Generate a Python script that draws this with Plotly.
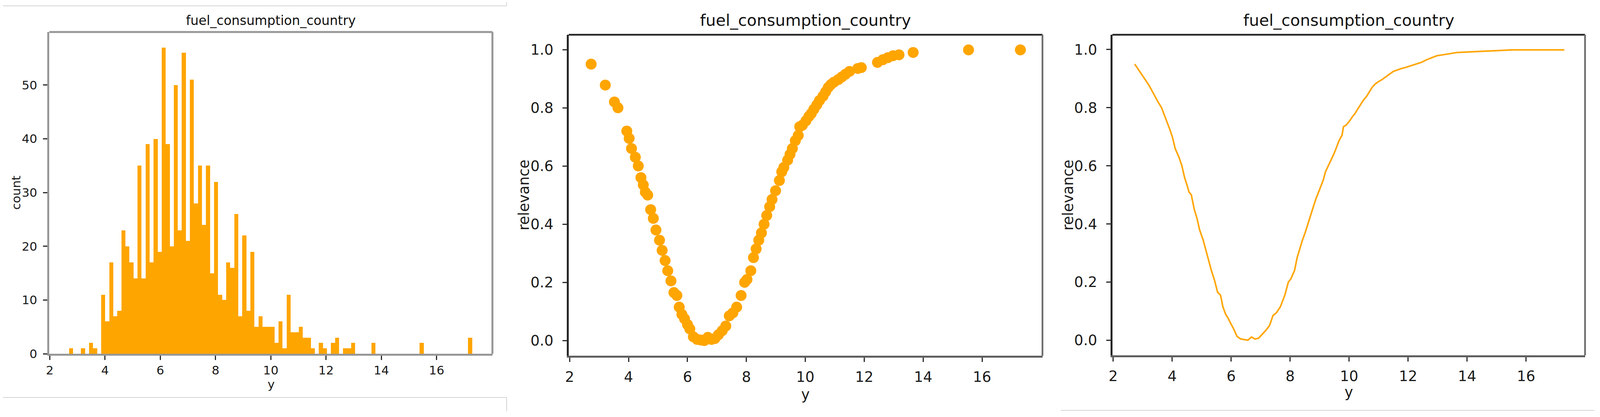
import numpy as np
import plotly.graph_objects as go
from plotly.subplots import make_subplots

W, H = 4276, 1068  # reference canvas, used to place boxes as fractions
ORANGE = "#FFA500"
TITLE = "fuel_consumption_country"

# ---- data ----
bin_start = 2.70
bin_end = 17.29
hist_counts = [1, 0, 0, 1, 0, 2, 1, 0,
               11, 6, 17, 7, 8, 23, 20, 17, 14, 35, 14, 39, 17, 40, 19, 57, 39, 20, 50, 23, 56, 21,
               51, 28, 35, 24, 35, 15, 32, 11, 10, 17, 16, 26, 7, 22, 8, 19, 5, 7, 5, 5,
               5, 2, 6, 1, 11, 4, 4, 5, 3, 3, 1, 0, 2, 1, 0, 2, 3, 0, 1, 1,
               2, 0, 0, 0, 0, 2, 0, 0, 0, 0, 0, 0, 0, 0, 0, 0, 0, 2, 0, 0,
               0, 0, 0, 0, 0, 0, 0, 0, 0, 3]

y_values = [2.73, 3.21, 3.52, 3.64, 3.94, 4.02, 4.10, 4.23, 4.33, 4.42, 4.50, 4.57, 4.65,
            4.75, 4.84, 4.93, 5.05, 5.14, 5.24, 5.33, 5.44, 5.54, 5.64, 5.72, 5.81, 5.90,
            6.00, 6.08, 6.20, 6.33, 6.45, 6.57, 6.69, 6.81, 6.93, 7.05, 7.18, 7.30, 7.42,
            7.54, 7.67, 7.82, 7.94, 8.02, 8.15, 8.24, 8.33, 8.42, 8.51, 8.60, 8.69, 8.79,
            8.87, 8.99, 9.12, 9.20, 9.27, 9.40, 9.48, 9.56, 9.66, 9.76, 9.81, 9.90, 10.02,
            10.12, 10.20, 10.29, 10.39, 10.48, 10.60, 10.69, 10.78, 10.87, 10.97, 11.12,
            11.24, 11.36, 11.50, 11.78, 11.90, 12.45, 12.63, 12.80, 12.98, 13.18, 13.66,
            15.54, 17.30]
relevance = [0.950, 0.878, 0.820, 0.800, 0.720, 0.695, 0.660, 0.630, 0.600, 0.560, 0.535,
             0.510, 0.500, 0.450, 0.420, 0.380, 0.345, 0.310, 0.275, 0.240, 0.205, 0.165,
             0.155, 0.115, 0.090, 0.075, 0.055, 0.040, 0.013, 0.004, 0.002, 0.000, 0.011,
             0.004, 0.007, 0.020, 0.034, 0.050, 0.085, 0.095, 0.115, 0.155, 0.200, 0.210,
             0.240, 0.285, 0.315, 0.345, 0.370, 0.400, 0.430, 0.460, 0.485, 0.515, 0.550,
             0.580, 0.595, 0.620, 0.640, 0.660, 0.687, 0.705, 0.735, 0.740, 0.755, 0.770,
             0.780, 0.795, 0.810, 0.825, 0.840, 0.855, 0.870, 0.880, 0.888, 0.897, 0.906,
             0.915, 0.925, 0.935, 0.938, 0.956, 0.965, 0.972, 0.979, 0.982, 0.990, 0.999,
             0.999]

x_ticks = [2, 4, 6, 8, 10, 12, 14, 16]
count_ticks = [0, 10, 20, 30, 40, 50]
rel_ticks = [0.0, 0.2, 0.4, 0.6, 0.8, 1.0]

edges = np.linspace(bin_start, bin_end, len(hist_counts) + 1)
centers = (edges[:-1] + edges[1:]) / 2
bw = edges[1] - edges[0]

# ---- layout boxes in reference pixels (left, right, top, bottom) ----
boxes = [(132, 1316, 82, 906), (1520, 2786, 89, 911), (2973, 4236, 89, 910)]


def px_x(v):
    return v / W


def px_y(v):
    return 1 - v / H


fig = make_subplots(rows=1, cols=3)

fig.add_trace(go.Bar(x=centers, y=hist_counts, width=bw, marker=dict(color=ORANGE, line=dict(width=0)),
                     showlegend=False, hoverinfo="skip"), row=1, col=1)
fig.add_trace(go.Scatter(x=y_values, y=relevance, mode="markers",
                         marker=dict(color=ORANGE, size=28, line=dict(width=0)), showlegend=False),
              row=1, col=2)
fig.add_trace(go.Scatter(x=y_values, y=relevance, mode="lines",
                         line=dict(color=ORANGE, width=4), showlegend=False), row=1, col=3)

font_family = "DejaVu Sans"
styles = [
    dict(bottom="#979797", left="#979797", top="#979797", right="#979797", lw=5, tick=31,
         xstand=0, ystand=9),
    dict(bottom="#5e5e5e", left="#262626", top="#262626", right="#6e6e6e", lw=4.5, tick=37,
         xstand=7, ystand=16),
    dict(bottom="#5e5e5e", left="#262626", top="#262626", right="#6e6e6e", lw=4.5, tick=37,
         xstand=6, ystand=16),
]
xranges = [[1.986, 18.02], [1.97, 18.05], [1.975, 18.0]]
yranges = [[0, 59.88], [-0.052, 1.051], [-0.052, 1.051]]

shapes = []
for i, (l, r, t, b) in enumerate(boxes):
    s = styles[i]
    xa = "xaxis" if i == 0 else f"xaxis{i + 1}"
    ya = "yaxis" if i == 0 else f"yaxis{i + 1}"
    common = dict(showline=True, mirror=False, linewidth=s["lw"],
                  showgrid=False, zeroline=False, ticks="outside", ticklen=11, tickwidth=3,
                  automargin=False, tickcolor="#2a2a2a",
                  tickfont=dict(family=font_family, size=s["tick"], color="#1a1a1a"))
    fig.update_layout({
        xa: dict(domain=[px_x(l), px_x(r)], range=xranges[i], tickvals=x_ticks,
                 linecolor=s["bottom"], ticklabelstandoff=s["xstand"], **common),
        ya: dict(domain=[px_y(b), px_y(t)], range=yranges[i],
                 tickvals=count_ticks if i == 0 else rel_ticks,
                 tickformat="d" if i == 0 else ".1f", linecolor=s["left"],
                 ticklabelstandoff=s["ystand"], **common),
    })
    xr = "x domain" if i == 0 else f"x{i + 1} domain"
    yr = "y domain" if i == 0 else f"y{i + 1} domain"
    shapes.append(dict(type="line", xref=xr, yref=yr, x0=0, x1=1, y0=1, y1=1,
                       line=dict(color=s["top"], width=s["lw"])))
    shapes.append(dict(type="line", xref=xr, yref=yr, x0=1, x1=1, y0=0, y1=1,
                       line=dict(color=s["right"], width=s["lw"])))

annotations = []
title_sizes = [33, 41, 41]
label_sizes = [31, 37, 37]
ylabel_text = ["count", "relevance", "relevance"]
ylabel_x = [43, 1400, 2855]
xlabel_y = [984, 1010, 1004]
for i, (l, r, t, b) in enumerate(boxes):
    cx = (l + r) / 2
    annotations.append(dict(text=TITLE, x=px_x(cx), y=px_y(52), xref="paper", yref="paper",
                            xanchor="center", yanchor="middle", showarrow=False,
                            font=dict(family=font_family, size=title_sizes[i], color="#111111")))
    annotations.append(dict(text="y", x=px_x(cx), y=px_y(xlabel_y[i]), xref="paper", yref="paper",
                            xanchor="center", yanchor="middle", showarrow=False,
                            font=dict(family=font_family, size=label_sizes[i], color="#1a1a1a")))
    annotations.append(dict(text=ylabel_text[i], x=px_x(ylabel_x[i]), y=px_y((t + b) / 2),
                            xref="paper", yref="paper", xanchor="center", yanchor="middle",
                            textangle=-90, showarrow=False,
                            font=dict(family=font_family, size=label_sizes[i], color="#1a1a1a")))

sep = dict(color="#d4d4d4", width=2)
shapes += [
    dict(type="line", xref="paper", yref="paper", x0=px_x(8), x1=px_x(1354), y0=px_y(15), y1=px_y(15), line=sep),
    dict(type="line", xref="paper", yref="paper", x0=px_x(1354), x1=px_x(1354), y0=px_y(5), y1=px_y(15), line=sep),
    dict(type="line", xref="paper", yref="paper", x0=px_x(8), x1=px_x(1354), y0=px_y(1018), y1=px_y(1018), line=sep),
    dict(type="line", xref="paper", yref="paper", x0=px_x(1354), x1=px_x(1354), y0=px_y(1018), y1=px_y(1053), line=sep),
    dict(type="line", xref="paper", yref="paper", x0=px_x(2835), x1=px_x(4261), y0=px_y(1051), y1=px_y(1051), line=sep),
]

fig.update_layout(template="none", autosize=True, margin=dict(l=0, r=0, t=0, b=0, pad=0, autoexpand=False),
                  paper_bgcolor="white", plot_bgcolor="white", bargap=0,
                  annotations=annotations, shapes=shapes, showlegend=False)

fit_page = """
document.documentElement.style.margin='0';
document.body.style.margin='0';
document.body.style.overflow='hidden';
var gd=document.getElementById('{plot_id}');
Plotly.Plots.resize(gd);
"""
fig.write_html("out.html", default_width="100vw", default_height="100vh",
               config={"responsive": True, "displayModeBar": False}, post_script=fit_page)
